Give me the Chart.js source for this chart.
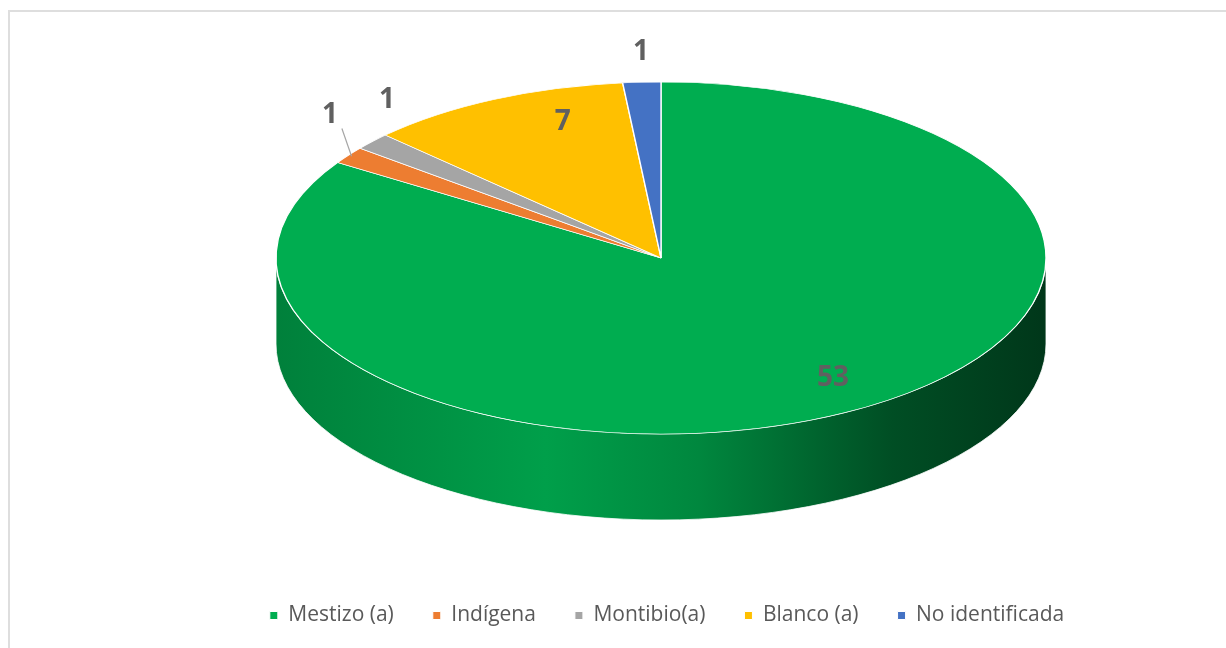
<!DOCTYPE html>
<html>
<head>
<meta charset="utf-8">
<script src="https://cdn.jsdelivr.net/npm/chart.js@4.4.1/dist/chart.umd.min.js"></script>
<style>
  html, body { margin: 0; padding: 0; background: #fff; overflow: hidden; }
  #frame { position: absolute; left: 8px; top: 10px; width: 1400px; height: 800px; border: 2px solid #dedede; }
  #c { position: absolute; left: 0; top: 0; }
</style>
</head>
<body>
<div id="frame"></div>
<canvas id="c" width="1226" height="648"></canvas>
<script>
// data
const categories = ["Mestizo (a)", "Indígena", "Montibio(a)", "Blanco (a)", "No identificada"];
const counts = [53, 1, 1, 7, 1];
const sliceColors = ["#00AD50", "#ED7D31", "#A5A5A5", "#FFC000", "#4472C4"];

// where the pie ellipse sits on the page
const PIE = { cx: 661, cy: 258, rx: 385, ry: 176, depth: 86 };
// label anchors, in ellipse units (x / rx, y / ry from the centre)
const labelSpots = [[0.447, 0.68], [-0.86, -0.81], [-0.712, -0.898], [-0.255, -0.773], [-0.052, -1.17]];

function shade(hex, f) {
  const n = parseInt(hex.slice(1), 16);
  const r = Math.round(((n >> 16) & 255) * f);
  const g = Math.round(((n >> 8) & 255) * f);
  const b = Math.round((n & 255) * f);
  return `rgb(${r},${g},${b})`;
}

const pie3d = {
  id: 'pie3d',
  beforeDatasetsDraw(chart) {
    const ctx = chart.ctx;
    const meta = chart.getDatasetMeta(0);
    const { cx, cy, rx, ry, depth } = PIE;

    // side wall, only the front half is visible
    meta.data.forEach((arc, i) => {
      const lo = Math.max(arc.startAngle, 0);
      const hi = Math.min(arc.endAngle, Math.PI);
      if (lo >= hi) return;
      const col = sliceColors[i];
      const grad = ctx.createLinearGradient(cx - rx, 0, cx + rx, 0);
      grad.addColorStop(0, shade(col, 0.74));
      grad.addColorStop(0.35, shade(col, 0.92));
      grad.addColorStop(0.55, shade(col, 0.78));
      grad.addColorStop(0.8, shade(col, 0.45));
      grad.addColorStop(1, shade(col, 0.32));
      ctx.save();
      ctx.beginPath();
      ctx.ellipse(cx, cy, rx, ry, 0, lo, hi);
      ctx.ellipse(cx, cy + depth, rx, ry, 0, hi, lo, true);
      ctx.closePath();
      ctx.fillStyle = grad;
      ctx.fill();
      ctx.strokeStyle = 'rgba(255,255,255,0.8)';
      ctx.lineWidth = 1;
      ctx.stroke();
      ctx.restore();
    });

    // squash the round pie into the ellipse
    const a0 = meta.data[0];
    const R = a0.outerRadius;
    ctx.save();
    ctx.translate(cx, cy);
    ctx.scale(rx / R, ry / R);
    ctx.translate(-a0.x, -a0.y);
  },
  afterDatasetsDraw(chart) {
    const ctx = chart.ctx;
    ctx.restore();
    const meta = chart.getDatasetMeta(0);
    const { cx, cy, rx, ry } = PIE;
    ctx.save();
    ctx.font = 'bold 28px "Open Sans", sans-serif';
    ctx.fillStyle = '#606060';
    ctx.textAlign = 'center';
    ctx.textBaseline = 'middle';
    counts.forEach((v, i) => {
      const [ux, uy] = labelSpots[i];
      const lx = cx + ux * rx, ly = cy + uy * ry;
      ctx.fillText(String(v), lx, ly);
      // leader line for the label that sits away from its slice
      if (i === 1) {
        const arc = meta.data[i];
        const mid = (arc.startAngle + arc.endAngle) / 2;
        const ex = cx + Math.cos(mid) * rx * 0.99, ey = cy + Math.sin(mid) * ry * 0.99;
        ctx.beginPath();
        ctx.moveTo(lx + 12, ly + 13);
        ctx.lineTo(ex, ey);
        ctx.strokeStyle = '#a6a6a6';
        ctx.lineWidth = 1.2;
        ctx.stroke();
      }
    });
    ctx.restore();
  }
};

new Chart(document.getElementById('c'), {
  type: 'pie',
  data: {
    labels: categories,
    datasets: [{
      data: counts,
      backgroundColor: sliceColors,
      borderColor: '#ffffff',
      borderWidth: 1,
      clip: false
    }]
  },
  options: {
    responsive: false,
    animation: false,
    events: [],
    layout: { padding: { left: 108, bottom: 12 } },
    plugins: {
      tooltip: { enabled: false },
      legend: {
        position: 'bottom',
        labels: {
          color: '#595959',
          font: { family: '"Open Sans", sans-serif', size: 21 },
          boxWidth: 8,
          boxHeight: 8,
          padding: 39
        }
      }
    }
  },
  plugins: [pie3d]
});
</script>
</body>
</html>
